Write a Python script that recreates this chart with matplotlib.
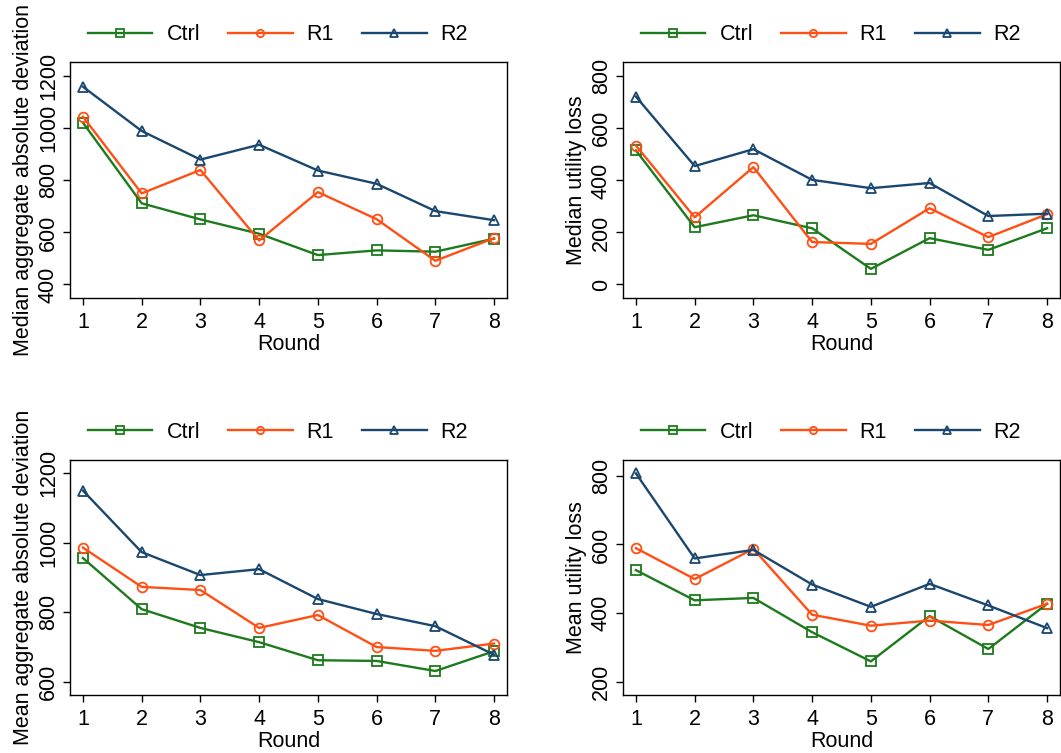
import matplotlib

matplotlib.use("Agg")
import matplotlib.pyplot as plt

plt.rcParams.update({
    "font.family": ["Liberation Sans", "DejaVu Sans"], "font.size": 15,
    "axes.linewidth": 1.0,
})

rounds = [1, 2, 3, 4, 5, 6, 7, 8]
groups = ["Ctrl", "R1", "R2"]

# median aggregate absolute deviation
med_dev_ctrl = [1022, 712, 650, 595, 513, 531, 526, 576]
med_dev_r1 = [1045, 750, 840, 569, 755, 651, 491, 578]
med_dev_r2 = [1160, 990, 880, 937, 838, 787, 682, 647]

# median utility loss
med_ul_ctrl = [515, 220, 266, 216, 60, 178, 133, 216]
med_ul_r1 = [534, 258, 451, 163, 156, 293, 182, 270]
med_ul_r2 = [722, 455, 520, 402, 370, 390, 263, 272]

# mean aggregate absolute deviation
mean_dev_ctrl = [956, 809, 755, 714, 662, 660, 631, 688]
mean_dev_r1 = [986, 873, 864, 755, 792, 700, 689, 710]
mean_dev_r2 = [1150, 973, 907, 924, 838, 795, 760, 678]

# mean utility loss
mean_ul_ctrl = [525, 437, 444, 344, 259, 391, 295, 427]
mean_ul_r1 = [589, 499, 587, 395, 363, 378, 365, 427]
mean_ul_r2 = [807, 559, 584, 483, 418, 485, 422, 356]

COLORS = ["#1d7a1d", "#ff4f14", "#1a476f"]
MARKERS = ["s", "o", "^"]
FS = 15.5

W, H = 1061, 753


def box(x0, y0, x1, y1):
    return [x0 / W, 1 - y1 / H, (x1 - x0) / W, (y1 - y0) / H]


panels = [
    (box(70, 62, 507, 298), "Median aggregate absolute deviation",
     [med_dev_ctrl, med_dev_r1, med_dev_r2], (348, 1255), [400, 600, 800, 1000, 1200], (278, 35)),
    (box(623, 62, 1060, 298), "Median utility loss",
     [med_ul_ctrl, med_ul_r1, med_ul_r2], (-52, 855), [0, 200, 400, 600, 800], (831, 35)),
    (box(70, 460, 507, 695), "Mean aggregate absolute deviation",
     [mean_dev_ctrl, mean_dev_r1, mean_dev_r2], (562, 1238), [600, 800, 1000, 1200], (278, 432)),
    (box(623, 460, 1060, 695), "Mean utility loss",
     [mean_ul_ctrl, mean_ul_r1, mean_ul_r2], (161, 846), [200, 400, 600, 800], (831, 432)),
]

fig = plt.figure(figsize=(W / 100, H / 100), dpi=100)

for rect, ylab, series, ylim, yticks, (lx, ly) in panels:
    ax = fig.add_axes(rect)
    for vals, name, col, mk in zip(series, groups, COLORS, MARKERS):
        ax.plot(rounds, vals, color=col, linewidth=1.7, marker=mk, markersize=7,
                markerfacecolor="none", markeredgecolor=col, markeredgewidth=1.3, label=name)
    ax.set_xlim(0.78, 8.22)
    ax.set_ylim(*ylim)
    ax.set_xticks(rounds)
    ax.set_yticks(yticks)
    ax.tick_params(axis="x", direction="out", length=5, width=1, labelsize=FS, pad=5)
    ax.tick_params(axis="y", direction="out", length=5, width=1, labelsize=FS, pad=3)
    plt.setp(ax.get_yticklabels(), rotation=90, va="center")
    ax.set_xlabel("Round", fontsize=FS, labelpad=1)
    ax.set_ylabel(ylab, fontsize=FS, labelpad=3)
    # legend above the plot region
    fig.legend(*ax.get_legend_handles_labels(), loc="center",
               bbox_to_anchor=(lx / W, 1 - ly / H),
               ncol=3, frameon=False, fontsize=FS, handlelength=3.0, columnspacing=1.3,
               handletextpad=0.65, markerscale=0.75, borderpad=0, borderaxespad=0)

fig.savefig("out.png", dpi=100)
